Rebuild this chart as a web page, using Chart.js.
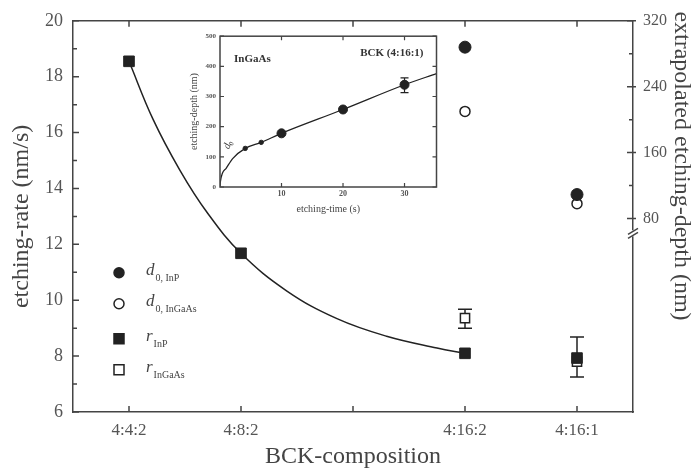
<!DOCTYPE html>
<html>
<head>
<meta charset="utf-8">
<script src="https://cdn.jsdelivr.net/npm/chart.js@4"></script>
<style>
  body { margin: 0; background: #fff; }
  #wrap { position: relative; width: 693px; height: 470px; }
  #inset { position: absolute; left: 180px; top: 28px; }
</style>
</head>
<body>
<div id="wrap">
  <canvas id="mainChart" width="693" height="470"></canvas>
  <canvas id="inset" width="262" height="192"></canvas>
</div>
<script>
// main plot data
const compLabels = ["4:4:2", "4:8:2", "", "4:16:2", "4:16:1"];
const compPos = [1, 2, 3, 4, 5];
const rInP = [18.55, 11.68, null, 8.1, 7.93];
const rInGaAs = [null, null, null, 9.36, 7.8];
const rInPErr = [null, null, null, null, [7.25, 8.68]];
const rInGaAsErr = [null, null, null, [9.0, 9.68], null];
const d0InP = [null, null, null, 288, 109];
const d0InGaAs = [null, null, null, 210, 98];
const fitX = [1, 1.214, 1.455, 1.696, 2, 2.41, 2.857, 3.3, 3.75, 4];
const fitY = [18.55, 16.48, 14.65, 13.15, 11.68, 10.33, 9.34, 8.71, 8.29, 8.1];
const leftTicks = [6, 8, 10, 12, 14, 16, 18, 20];
const rightTicks = [80, 160, 240, 320];
const rightMinor = [120, 200, 280];

// inset data
const insetTime = [10, 20, 30];
const insetDepth = [178, 257, 339];
const insetErr = [null, null, [313, 362]];
const insetSmallTime = [4.1, 6.7];
const insetSmallDepth = [128, 148];
const insetFitT = [0, 0.05, 1, 2.1, 4.1, 6.7, 10, 20, 30, 35.2];
const insetFitD = [0, 16, 62, 95, 128, 148, 178, 257, 339, 376];
const insetYTicks = [0, 100, 200, 300, 400, 500];
const insetXTicks = [10, 20, 30];

const SERIF = "'Liberation Serif', 'Times New Roman', serif";
const INK = "#222";
const TXT = "#444";

const pts = (xs, ys) => xs.map((x, i) => ys[i] == null ? null : { x: x, y: ys[i] }).filter(p => p);

function marker(ctx, kind, x, y, s, filled) {
    ctx.save();
    ctx.fillStyle = filled ? INK : "#fff";
    ctx.strokeStyle = INK;
    ctx.lineWidth = 1.5;
    ctx.beginPath();
    if (kind === "circle") ctx.arc(x, y, s, 0, Math.PI * 2);
    else ctx.rect(x - s, y - s, 2 * s, 2 * s);
    ctx.fill();
    ctx.stroke();
    ctx.restore();
}

function errBar(ctx, x, yLo, yHi, cap) {
    ctx.beginPath();
    ctx.moveTo(x, yLo); ctx.lineTo(x, yHi);
    ctx.moveTo(x - cap, yLo); ctx.lineTo(x + cap, yLo);
    ctx.moveTo(x - cap, yHi); ctx.lineTo(x + cap, yHi);
    ctx.stroke();
}

const mainDecor = {
    id: "mainDecor",
    beforeDatasetsDraw(chart) {
        const { ctx, scales: { x, y } } = chart;
        ctx.save();
        ctx.strokeStyle = INK;
        ctx.lineWidth = 1.5;
        [rInPErr, rInGaAsErr].forEach(errs => errs.forEach((e, i) => {
            if (!e) return;
            errBar(ctx, x.getPixelForValue(compPos[i]), y.getPixelForValue(e[0]), y.getPixelForValue(e[1]), 7);
        }));
        ctx.restore();
    },
    afterDraw(chart) {
        const { ctx, chartArea: a, scales: { x, y, y2 } } = chart;
        ctx.save();
        ctx.strokeStyle = "#444";
        ctx.lineWidth = 1.5;
        // top frame line
        ctx.beginPath();
        ctx.moveTo(a.left, a.top); ctx.lineTo(a.right, a.top);
        ctx.stroke();
        // inward ticks
        ctx.beginPath();
        for (let v = 6; v <= 20; v++) {
            const py = y.getPixelForValue(v);
            ctx.moveTo(a.left, py); ctx.lineTo(a.left + (v % 2 === 0 ? 6 : 4), py);
        }
        compPos.forEach(v => {
            const px = x.getPixelForValue(v);
            ctx.moveTo(px, a.bottom); ctx.lineTo(px, a.bottom - 6);
            ctx.moveTo(px, a.top); ctx.lineTo(px, a.top + 6);
        });
        rightTicks.forEach(v => {
            const py = y2.getPixelForValue(v);
            ctx.moveTo(a.right + 3, py); ctx.lineTo(a.right - 6, py);
        });
        rightMinor.forEach(v => {
            const py = y2.getPixelForValue(v);
            ctx.moveTo(a.right, py); ctx.lineTo(a.right - 4, py);
        });
        ctx.stroke();
        // axis break
        const by = y2.getPixelForValue(62);
        ctx.fillStyle = "#fff";
        ctx.fillRect(a.right - 4, by - 3, 8, 6);
        ctx.beginPath();
        ctx.moveTo(a.right - 5, by + 1); ctx.lineTo(a.right + 5, by - 5);
        ctx.moveTo(a.right - 5, by + 5); ctx.lineTo(a.right + 5, by - 1);
        ctx.stroke();

        // legend
        const entries = [
            ["circle", true, "d", "0, InP"],
            ["circle", false, "d", "0, InGaAs"],
            ["rect", true, "r", "InP"],
            ["rect", false, "r", "InGaAs"]
        ];
        const rows = [252, 283, 318, 349];
        entries.forEach((e, i) => {
            const ly = a.top + rows[i];
            marker(ctx, e[0], a.left + 46, ly, 5, e[1]);
            ctx.fillStyle = TXT;
            ctx.textBaseline = "middle";
            ctx.textAlign = "left";
            ctx.font = "italic 17px " + SERIF;
            ctx.fillText(e[2], a.left + 73, ly - 2);
            const w = ctx.measureText(e[2]).width;
            ctx.font = "10px " + SERIF;
            ctx.fillText(e[3], a.left + 74 + w, ly + 6);
        });

        // right axis title
        ctx.fillStyle = TXT;
        ctx.font = "24px " + SERIF;
        ctx.textAlign = "center";
        ctx.textBaseline = "middle";
        ctx.translate(681, 166);
        ctx.rotate(Math.PI / 2);
        ctx.fillText("extrapolated etching-depth (nm)", 0, 0);
        ctx.restore();
    }
};

new Chart(document.getElementById("mainChart"), {
    type: "scatter",
    data: {
        datasets: [
            {
                label: "fit",
                data: pts(fitX, fitY),
                showLine: true,
                tension: 0.4,
                borderColor: INK,
                borderWidth: 1.5,
                pointRadius: 0,
                order: 10
            },
            {
                label: "r InP",
                data: pts(compPos, rInP),
                pointStyle: "rect",
                pointRadius: 7.5,
                backgroundColor: INK,
                borderColor: INK
            },
            {
                label: "r InGaAs",
                data: pts(compPos, rInGaAs),
                pointStyle: "rect",
                pointRadius: 6.5,
                backgroundColor: "#fff",
                borderColor: INK,
                borderWidth: 1.5,
                order: 5
            },
            {
                label: "d0 InP",
                data: pts(compPos, d0InP),
                yAxisID: "y2",
                pointRadius: 6,
                backgroundColor: INK,
                borderColor: INK
            },
            {
                label: "d0 InGaAs",
                data: pts(compPos, d0InGaAs),
                yAxisID: "y2",
                pointRadius: 5,
                backgroundColor: "#fff",
                borderColor: INK,
                borderWidth: 1.5
            }
        ]
    },
    options: {
        responsive: false,
        animation: false,
        layout: { padding: { top: 20 } },
        plugins: { legend: { display: false }, tooltip: { enabled: false } },
        scales: {
            x: {
                type: "linear",
                min: 0.5,
                max: 5.5,
                afterBuildTicks: s => { s.ticks = compPos.map(v => ({ value: v })); },
                afterFit: s => { s.height = 58; },
                ticks: {
                    callback: v => compLabels[compPos.indexOf(v)] || "",
                    font: { family: SERIF, size: 17 },
                    color: "#555",
                    padding: 8,
                    maxRotation: 0
                },
                grid: { display: false, drawTicks: false },
                border: { color: "#444", width: 1.5 },
                title: {
                    display: true,
                    text: "BCK-composition",
                    font: { family: SERIF, size: 24 },
                    color: TXT,
                    padding: { top: 0, bottom: -1 }
                }
            },
            y: {
                min: 6,
                max: 20,
                afterBuildTicks: s => { s.ticks = leftTicks.map(v => ({ value: v })); },
                afterFit: s => { s.width = 73; },
                ticks: { font: { family: SERIF, size: 18 }, color: "#555", padding: 10 },
                grid: { display: false, drawTicks: false },
                border: { color: "#444", width: 1.5 },
                title: {
                    display: true,
                    text: "etching-rate (nm/s)",
                    font: { family: SERIF, size: 24 },
                    color: TXT,
                    padding: { top: 7, bottom: 0 }
                }
            },
            y2: {
                position: "right",
                min: -155,
                max: 320,
                afterBuildTicks: s => { s.ticks = rightTicks.map(v => ({ value: v })); },
                afterFit: s => { s.width = 60; },
                ticks: { font: { family: SERIF, size: 16 }, color: "#555", padding: 10 },
                grid: { display: false, drawTicks: false },
                border: { color: "#444", width: 1.5 }
            }
        }
    },
    plugins: [mainDecor]
});

const insetDecor = {
    id: "insetDecor",
    beforeDatasetsDraw(chart) {
        const { ctx, scales: { x, y } } = chart;
        ctx.save();
        ctx.strokeStyle = INK;
        ctx.lineWidth = 1.2;
        insetErr.forEach((e, i) => {
            if (!e) return;
            errBar(ctx, x.getPixelForValue(insetTime[i]), y.getPixelForValue(e[0]), y.getPixelForValue(e[1]), 4);
        });
        ctx.restore();
    },
    afterDraw(chart) {
        const { ctx, chartArea: a, scales: { x, y } } = chart;
        ctx.save();
        ctx.strokeStyle = "#444";
        ctx.lineWidth = 1.5;
        ctx.strokeRect(a.left, a.top, a.right - a.left, a.bottom - a.top);
        ctx.lineWidth = 1.2;
        ctx.beginPath();
        insetYTicks.forEach(v => {
            const py = y.getPixelForValue(v);
            ctx.moveTo(a.left, py); ctx.lineTo(a.left + 4, py);
            ctx.moveTo(a.right, py); ctx.lineTo(a.right - 4, py);
        });
        insetXTicks.forEach(v => {
            const px = x.getPixelForValue(v);
            ctx.moveTo(px, a.bottom); ctx.lineTo(px, a.bottom - 4);
            ctx.moveTo(px, a.top); ctx.lineTo(px, a.top + 4);
        });
        ctx.stroke();

        ctx.fillStyle = "#333";
        ctx.textBaseline = "middle";
        ctx.font = "bold 11px " + SERIF;
        ctx.textAlign = "left";
        ctx.fillText("InGaAs", a.left + 14, a.top + 23);
        ctx.textAlign = "right";
        ctx.fillText("BCK (4:16:1)", a.right - 13, a.top + 17);

        // d0 label near the intercept
        ctx.translate(x.getPixelForValue(1.2), y.getPixelForValue(135));
        ctx.rotate(-Math.PI / 2.6);
        ctx.textAlign = "center";
        ctx.font = "italic 10px " + SERIF;
        ctx.fillText("d", 0, 0);
        ctx.font = "7px " + SERIF;
        ctx.fillText("0", 4, 3);
        ctx.restore();
    }
};

new Chart(document.getElementById("inset"), {
    type: "scatter",
    data: {
        datasets: [
            {
                data: pts(insetFitT, insetFitD),
                showLine: true,
                cubicInterpolationMode: "monotone",
                borderColor: INK,
                borderWidth: 1.3,
                pointRadius: 0,
                order: 10
            },
            {
                data: pts(insetTime, insetDepth),
                pointRadius: 4.5,
                backgroundColor: INK,
                borderColor: INK
            },
            {
                data: pts(insetSmallTime, insetSmallDepth),
                pointRadius: 2.2,
                backgroundColor: INK,
                borderColor: INK
            }
        ]
    },
    options: {
        responsive: false,
        animation: false,
        layout: { padding: { top: 7, right: 5 } },
        plugins: { legend: { display: false }, tooltip: { enabled: false } },
        scales: {
            x: {
                type: "linear",
                min: 0,
                max: 35.2,
                afterBuildTicks: s => { s.ticks = insetXTicks.map(v => ({ value: v })); },
                afterFit: s => { s.height = 33; },
                ticks: { font: { family: SERIF, size: 8, weight: "bold" }, color: "#555", padding: 2, maxRotation: 0 },
                grid: { display: false, drawTicks: false },
                border: { display: false },
                title: {
                    display: true,
                    text: "etching-time (s)",
                    font: { family: SERIF, size: 10 },
                    color: TXT,
                    padding: { top: 0, bottom: 5 }
                }
            },
            y: {
                min: 0,
                max: 500,
                afterBuildTicks: s => { s.ticks = insetYTicks.map(v => ({ value: v })); },
                afterFit: s => { s.width = 40; },
                ticks: { font: { family: SERIF, size: 7, weight: "bold" }, color: "#555", padding: 4 },
                grid: { display: false, drawTicks: false },
                border: { display: false },
                title: {
                    display: true,
                    text: "etching-depth (nm)",
                    font: { family: SERIF, size: 10 },
                    color: TXT,
                    padding: { top: 8, bottom: 0 }
                }
            }
        }
    },
    plugins: [insetDecor]
});
</script>
</body>
</html>
